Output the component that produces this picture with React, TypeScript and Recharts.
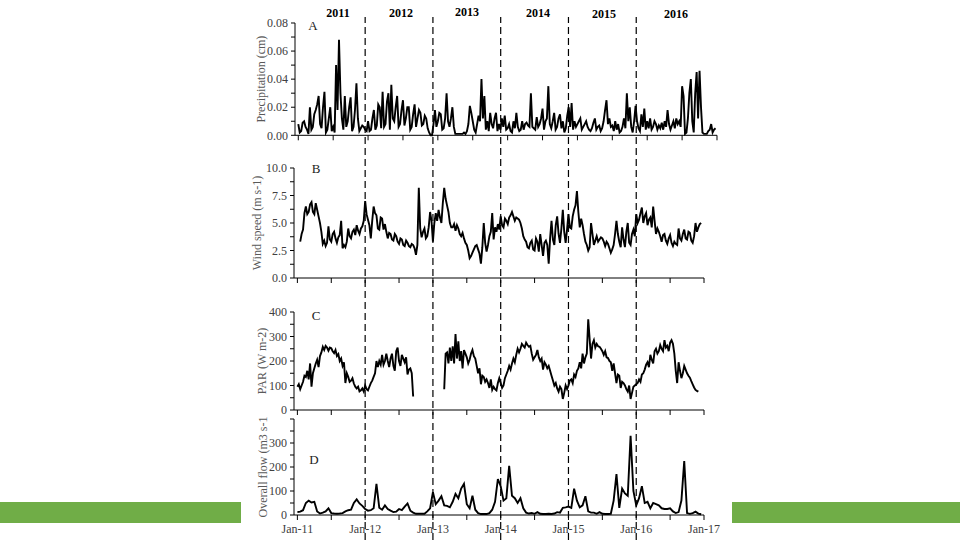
import { LineChart, Line, XAxis, YAxis, ReferenceLine } from "recharts";

// precipitation, wind and PAR: 48 samples per year from Jan 2011; flow: 24 per year
const precipitation = [
  0.008, 0.002, 0.003, 0.009, 0.01, 0.006, 0.004, 0.001, 0.02, 0.004, 0.006, 0.015, 0.018, 0.022, 0.028, 0.008, 0.005, 0.02, 0.031, 0.002, 0.004, 0.012, 0.02, 0.003,
  0.006, 0.002, 0.05, 0.018, 0.068, 0.03, 0.012, 0.004, 0.028, 0.006, 0.01, 0.02, 0.027, 0.003, 0.006, 0.018, 0.037, 0.012, 0.003, 0.005, 0.007, 0.006, 0.004, 0.003,
  0.01, 0.003, 0.004, 0.012, 0.018, 0.004, 0.007, 0.022, 0.02, 0.005, 0.031, 0.006, 0.008, 0.024, 0.03, 0.004, 0.036, 0.012, 0.01, 0.02, 0.028, 0.006, 0.008, 0.018,
  0.025, 0.007, 0.012, 0.02, 0.02, 0.004, 0.006, 0.015, 0.022, 0.006, 0.012, 0.018, 0.016, 0.007, 0.008, 0.014, 0.012, 0.005, 0.002, 0.0, 0.0, 0.008, 0.018, 0.006,
  0.01, 0.016, 0.015, 0.004, 0.005, 0.012, 0.03, 0.01, 0.006, 0.012, 0.02, 0.006, 0.001, 0.001, 0.001, 0.001, 0.001, 0.001, 0.002, 0.001, 0.003, 0.008, 0.021, 0.016,
  0.01, 0.004, 0.002, 0.008, 0.014, 0.01, 0.04, 0.012, 0.028, 0.004, 0.01, 0.003, 0.016, 0.008, 0.005, 0.012, 0.016, 0.003, 0.008, 0.004, 0.012, 0.006, 0.014, 0.004,
  0.005, 0.008, 0.003, 0.002, 0.01, 0.005, 0.016, 0.006, 0.003, 0.004, 0.01, 0.004, 0.008, 0.009, 0.007, 0.006, 0.03, 0.006, 0.005, 0.004, 0.013, 0.006, 0.008, 0.012,
  0.019, 0.004, 0.01, 0.012, 0.035, 0.008, 0.005, 0.01, 0.016, 0.004, 0.006, 0.012, 0.015, 0.005, 0.01, 0.002, 0.005, 0.014, 0.02, 0.006, 0.023, 0.004, 0.01, 0.006,
  0.008, 0.01, 0.012, 0.004, 0.006, 0.008, 0.01, 0.006, 0.004, 0.003, 0.005, 0.009, 0.012, 0.004, 0.006, 0.007, 0.003, 0.005, 0.01, 0.018, 0.025, 0.008, 0.012, 0.006,
  0.007, 0.003, 0.01, 0.004, 0.008, 0.002, 0.003, 0.006, 0.012, 0.005, 0.03, 0.01, 0.02, 0.006, 0.002, 0.01, 0.021, 0.01, 0.005, 0.003, 0.015, 0.006, 0.019, 0.004,
  0.01, 0.005, 0.012, 0.004, 0.006, 0.01, 0.008, 0.004, 0.007, 0.005, 0.009, 0.004, 0.01, 0.006, 0.018, 0.008, 0.004, 0.007, 0.01, 0.005, 0.012, 0.008, 0.01, 0.006,
  0.035, 0.028, 0.001, 0.002, 0.012, 0.03, 0.04, 0.01, 0.002, 0.03, 0.045, 0.012, 0.046, 0.02, 0.002, 0.001, 0.001, 0.001, 0.003, 0.004, 0.008, 0.002, 0.004, 0.005,
];

const windSpeed = [
  null, null, 3.3, 4.0, 4.4, 5.9, 6.5, 5.8, 6.0, 6.7, 6.9, 6.0, 5.8, 6.8, 6.2, 5.6, 5.0, 4.2, 3.1, 3.4, 2.9, 3.2, 4.7, 3.5,
  3.3, 4.0, 4.2, 3.6, 3.2, 3.7, 3.9, 5.2, 2.7, 3.0, 2.8, 3.3, 4.5, 3.8, 3.6, 4.2, 4.4, 3.9, 4.8, 4.3, 4.0, 4.5, 4.7, 5.2,
  7.0, 5.8, 5.3, 4.8, 3.6, 5.2, 6.5, 5.9, 5.7, 4.5, 4.4, 5.5, 5.4, 4.4, 4.9, 4.2, 3.6, 4.1, 4.0, 3.5, 3.4, 4.0, 3.8, 3.3,
  3.1, 3.6, 3.5, 3.0, 2.9, 3.4, 3.2, 2.9, 2.8, 3.1, 3.0, 2.7, 2.1, 3.0, 8.2, 4.5, 3.7, 4.2, 4.5, 3.6, 3.8, 4.6, 6.0, 5.2,
  3.3, 5.0, 5.9, 5.2, 6.2, 5.5, 5.0, 6.8, 8.2, 7.2, 6.6, 6.0, 5.0, 4.6, 4.6, 4.9, 4.3, 4.8, 4.5, 4.0, 3.8, 4.1, 3.6, 3.2,
  3.0, 2.5, 1.8, 2.0, 2.3, 2.6, 2.9, 3.0, 2.6, 2.2, 1.3, 2.8, 5.0, 3.2, 2.4, 3.0, 3.8, 4.2, 5.9, 3.5, 4.6, 4.2, 4.9, 4.4,
  5.6, 4.8, 4.6, 5.4, 5.2, 4.9, 5.5, 5.7, 6.0, 5.6, 5.2, 5.5, 5.4, 5.3, 5.0, 4.5, 3.8, 3.5, 3.3, 2.8, 2.7, 3.2, 3.4, 2.6,
  2.5, 3.6, 3.3, 2.4, 4.0, 3.0, 2.0, 3.2, 3.4, 3.0, 1.3, 3.6, 5.2, 3.5, 3.0, 4.8, 5.6, 4.0, 3.2, 4.5, 6.2, 4.2, 3.2, 4.4,
  5.8, 4.6, 4.5, 5.6, 6.2, 6.6, 7.9, 6.0, 4.6, 5.4, 4.8, 4.0, 3.3, 3.0, 2.5, 2.8, 5.0, 4.0, 3.0, 3.4, 3.8, 3.3, 3.5, 3.7,
  3.6, 3.3, 2.9, 3.3, 3.1, 2.7, 2.3, 2.6, 3.0, 4.0, 5.2, 4.0, 3.3, 2.8, 4.6, 3.5, 2.8, 4.2, 5.0, 3.2, 3.0, 4.0, 4.4, 3.8,
  5.8, 5.0, 5.3, 5.9, 6.4, 5.0, 5.6, 5.9, 4.8, 5.3, 5.5, 4.6, 6.5, 5.2, 4.0, 4.5, 4.2, 3.8, 3.3, 3.9, 4.0, 3.4, 3.1, 3.6,
  3.9, 3.2, 2.9, 3.3, 3.1, 3.0, 4.5, 3.6, 3.4, 4.0, 4.4, 3.6, 3.5, 4.2, 4.1, 3.4, 3.2, 3.8, 5.0, 4.2, 4.6, 4.9, 5.0, null,
];

const par = [
  95, 105, 85, 100, 115, 140, 135, 160, 125, 190, 95, 150, 170, 190, 205, 175, 220, 235, 258, 245, 262, 255, 242, 255,
  252, 240, 232, 245, 220, 228, 200, 210, 180, 195, 110, 150, 135, 115, 120, 130, 108, 95, 88, 95, 76, 80, 88, 75,
  100, 85, 80, 95, 110, 120, 135, 150, 200, 175, 200, 185, 225, 185, 200, 230, 200, 175, 210, 230, 180, 160, 240, 255,
  200, 180, 225, 210, 195, 215, 145, 165, 170, 150, 55, null, null, null, null, null, null, null, null, null, null, null,
  null, null, null, null, null, null, null, null, null, null, 85, 230, 235, 190, 255, 200, 260, 190, 310, 210, 280, 200,
  240, 170, 245, 230, 215, 190, 205, 230, 245, 220, 210, 180, 150, 170, 105, 140, 135, 115, 125, 110, 90, 125, 82, 95, 85, 80,
  110, 130, 110, 90, 100, 130, 145, 160, 180, 165, 190, 210, 195, 225, 250, 235, 250, 270, 262, 255, 275, 265, 258, 262,
  230, 205, 215, 225, 245, 215, 200, 210, 165, 195, 185, 170, 180, 160, 140, 120, 100, 110, 88, 75, 95, 85, 45, 70,
  100, 85, 100, 120, 125, 110, 145, 135, 160, 170, 195, 170, 230, 190, 215, 230, 370, 290, 210, 270, 285, 255, 270, 260,
  258, 250, 240, 225, 240, 215, 212, 200, 195, 160, 190, 150, 110, 145, 140, 90, 115, 110, 100, 85, 75, 100, 45, 70,
  95, 100, 105, 110, 125, 115, 145, 150, 165, 185, 195, 175, 225, 205, 190, 240, 250, 230, 240, 265, 250, 240, 285, 255,
  262, 240, 275, 285, 270, 230, 160, 110, 195, 160, 130, 150, 180, 165, 150, 140, 132, 118, 105, 92, 82, 78, 75, null,
];

const flow = [
  12, 14, 20, 50, 60, 52, 55, 15, 6, 10, 15, 28, 8, 6, 5, 6, 8, 15, 20, 22, 50, 65, 48, 38,
  25, 18, 20, 28, 130, 30, 22, 40, 25, 18, 12, 14, 25, 20, 35, 48, 18, 10, 5, 5, 5, 5, 15, 28,
  95, 45, 60, 78, 40, 38, 32, 55, 88, 70, 110, 130, 45, 28, 80, 22, 8, 4, 4, 4, 8, 22, 55, 150,
  120, 60, 70, 205, 80, 70, 50, 70, 28, 10, 6, 8, 5, 12, 5, 4, 4, 5, 4, 6, 12, 10, 30, 32,
  35, 30, 110, 60, 32, 40, 78, 15, 10, 10, 5, 12, 5, 4, 4, 5, 60, 170, 30, 110, 90, 80, 330, 100,
  40, 70, 120, 50, 55, 28, 50, 45, 40, 28, 25, 25, 28, 15, 8, 12, 60, 225, 8, 5, 8, 14, 6, 3,
];

const timeTicks = [2011, 2011.5, 2012, 2012.5, 2013, 2013.5, 2014, 2014.5, 2015, 2015.5, 2016, 2016.5, 2017];
const yearLines = [2012, 2013, 2014, 2015, 2016];
const yearNames = ["2011", "2012", "2013", "2014", "2015", "2016"];
const precipTicks = [0, 0.01, 0.02, 0.03, 0.04, 0.05, 0.06, 0.07, 0.08];
const windTicks = [0, 1.25, 2.5, 3.75, 5, 6.25, 7.5, 8.75, 10];
const wattTicks = [0, 50, 100, 150, 200, 250, 300, 350, 400];

const toRows = (values: (number | null)[], perYear: number) =>
  values.map((v, i) => ({ t: 2011 + i / perYear, v }));

const FONT = '"Liberation Serif", "Times New Roman", serif';
const yearSpots = [
  { x: 338, y: 13 },
  { x: 401, y: 13 },
  { x: 467, y: 11.5 },
  { x: 538, y: 13 },
  { x: 604, y: 14 },
  { x: 676, y: 14 },
];

type PanelProps = {
  top: number;
  axisW: number;
  plotW: number;
  plotH: number;
  xStart: number;
  values: (number | null)[];
  perYear: number;
  yTicks: number[];
  yFmt: (v: number, i: number) => string;
  title: string;
  titleX: number;
  dateLabels?: boolean;
};

function Panel({ top, axisW, plotW, plotH, xStart, values, perYear, yTicks, yFmt, title, titleX, dateLabels }: PanelProps) {
  return (
    <div style={{ position: "absolute", left: 238, top }}>
      <LineChart
        width={axisW + plotW + 20}
        height={10 + plotH + 24}
        data={toRows(values, perYear)}
        margin={{ top: 10, right: 20, bottom: 0, left: 0 }}
      >
        <XAxis
          dataKey="t"
          type="number"
          domain={[xStart, 2017]}
          ticks={timeTicks}
          interval={0}
          height={24}
          tickSize={5}
          tickMargin={4}
          axisLine={{ stroke: "#000" }}
          tickLine={{ stroke: "#000" }}
          tick={{ fill: "#404040", fontSize: 12 }}
          tickFormatter={(v: number, i: number) => (dateLabels && i % 2 === 0 ? "Jan-" + String(v).slice(2) : "")}
        />
        <YAxis
          width={axisW}
          domain={[yTicks[0], yTicks[yTicks.length - 1]]}
          ticks={yTicks}
          interval={0}
          tickSize={4}
          tickMargin={3}
          axisLine={{ stroke: "#000" }}
          tickLine={{ stroke: "#000" }}
          tick={{ fill: "#404040", fontSize: 12 }}
          tickFormatter={yFmt}
          label={{
            value: title,
            angle: -90,
            position: "insideLeft",
            offset: titleX,
            style: { textAnchor: "middle", fill: "#595959", fontSize: 12 },
          }}
        />
        <Line
          dataKey="v"
          type="linear"
          stroke="#000"
          strokeWidth={1.9}
          dot={false}
          connectNulls={false}
          isAnimationActive={false}
        />
      </LineChart>
    </div>
  );
}

export default function App() {
  return (
    <div
      style={{
        position: "absolute",
        left: 0,
        top: 0,
        width: 960,
        height: 540,
        background: "#fff",
        overflow: "hidden",
        fontFamily: FONT,
      }}
    >
      <div style={{ position: "absolute", left: 0, top: 502, width: 241, height: 21, background: "#70AD47" }} />
      <div style={{ position: "absolute", left: 732, top: 502, width: 228, height: 21, background: "#70AD47" }} />

      <Panel
        top={12.7}
        axisW={57}
        plotW={422}
        plotH={112.3}
        xStart={2010.953}
        values={precipitation}
        perYear={48}
        yTicks={precipTicks}
        yFmt={(v, i) => (i % 2 === 0 ? v.toFixed(2) : "")}
        title="Precipitation (cm)"
        titleX={23}
      />
      <Panel
        top={158}
        axisW={56}
        plotW={410}
        plotH={110}
        xStart={2010.95}
        values={windSpeed}
        perYear={48}
        yTicks={windTicks}
        yFmt={(v, i) => (i % 2 === 0 ? v.toFixed(1) : "")}
        title="Wind speed (m s-1)"
        titleX={19}
      />
      <Panel
        top={302}
        axisW={56}
        plotW={410}
        plotH={98}
        xStart={2010.95}
        values={par}
        perYear={48}
        yTicks={wattTicks}
        yFmt={(v, i) => (i % 2 === 0 ? String(v) : "")}
        title="PAR (W m-2)"
        titleX={24}
      />
      <Panel
        top={409}
        axisW={56}
        plotW={410}
        plotH={96}
        xStart={2010.95}
        values={flow}
        perYear={24}
        yTicks={wattTicks}
        yFmt={(v, i) => (i % 2 === 0 && i < 8 ? String(v) : "")}
        title="Overall flow (m3 s-1"
        titleX={25}
        dateLabels
      />

      {["A", "B", "C", "D"].map((p, i) => (
        <span
          key={p}
          style={{
            position: "absolute",
            left: [313, 316, 316, 314][i],
            top: [25, 168, 315, 459][i],
            transform: "translate(-50%, -50%)",
            fontSize: 13,
            lineHeight: 1,
            color: "#222",
          }}
        >
          {p}
        </span>
      ))}

      {yearNames.map((name, i) => (
        <span
          key={name}
          style={{
            position: "absolute",
            left: yearSpots[i].x,
            top: yearSpots[i].y,
            transform: "translate(-50%, -50%)",
            fontSize: 12,
            fontWeight: "bold",
            lineHeight: 1,
            color: "#000",
          }}
        >
          {name}
        </span>
      ))}

      <div style={{ position: "absolute", left: 238, top: 17, pointerEvents: "none" }}>
        <LineChart
          width={56 + 410 + 20}
          height={523}
          data={yearLines.map((t) => ({ t, v: 0 }))}
          margin={{ top: 0, right: 20, bottom: 0, left: 56 }}
        >
          <XAxis dataKey="t" type="number" domain={[2010.95, 2017]} hide />
          <YAxis domain={[0, 1]} hide />
          <Line dataKey="v" stroke="none" dot={false} isAnimationActive={false} />
          {yearLines.map((y) => (
            <ReferenceLine key={y} x={y} stroke="#000" strokeWidth={1.2} strokeDasharray="7 4" />
          ))}
        </LineChart>
      </div>
    </div>
  );
}
